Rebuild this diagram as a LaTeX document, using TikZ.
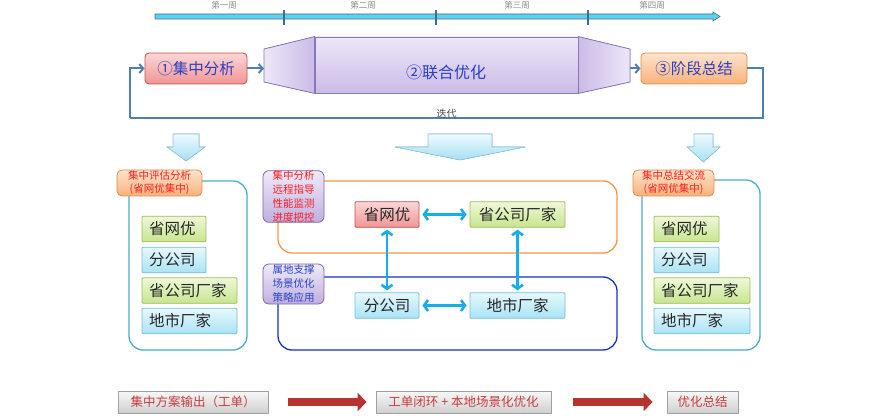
\documentclass[tikz,border=0pt]{standalone}
\usepackage{fontspec}
\setmainfont{Noto Sans CJK SC}
\usepackage{xcolor}
\usetikzlibrary{arrows.meta}

\definecolor{tlFill}{HTML}{5FD0EE}
\definecolor{tlEdge}{HTML}{3C6E99}
\definecolor{weekGray}{HTML}{8A8A8A}
\definecolor{flowBlue}{HTML}{4E7FB0}
\definecolor{stageText}{HTML}{2A3FC4}
\definecolor{redTop}{HTML}{FCD6D6}
\definecolor{redBot}{HTML}{F09595}
\definecolor{redLine}{HTML}{C0504D}
\definecolor{tubeTop}{HTML}{EDE7F8}
\definecolor{tubeBot}{HTML}{CBBBE7}
\definecolor{tubeLine}{HTML}{8878B8}
\definecolor{orTop}{HTML}{FDE3CC}
\definecolor{orBot}{HTML}{F9B27A}
\definecolor{orLine}{HTML}{E08C48}
\definecolor{gnTop}{HTML}{EEF8D8}
\definecolor{gnBot}{HTML}{C8E58F}
\definecolor{gnLine}{HTML}{9BBB59}
\definecolor{blTop}{HTML}{E7F8FD}
\definecolor{blBot}{HTML}{A9E3F5}
\definecolor{blLine}{HTML}{77BCD6}
\definecolor{puTop}{HTML}{F0EAF9}
\definecolor{puBot}{HTML}{BFAEE0}
\definecolor{puLine}{HTML}{8064A2}
\definecolor{tealLine}{HTML}{4BACC6}
\definecolor{frameOrange}{HTML}{F79646}
\definecolor{frameBlue}{HTML}{1233C0}
\definecolor{linkCyan}{HTML}{16AEE8}
\definecolor{tagRed}{HTML}{FF1E1E}
\definecolor{tagBlue}{HTML}{2845C8}
\definecolor{outTop}{HTML}{F8F8F8}
\definecolor{outBot}{HTML}{CFCFCF}
\definecolor{outLine}{HTML}{A0A0A0}
\definecolor{outText}{HTML}{C83C3C}
\definecolor{bigRed}{HTML}{B83230}
\definecolor{dnTop}{HTML}{EEFAFE}
\definecolor{dnBot}{HTML}{A6DFF3}
\definecolor{dnLine}{HTML}{8CC8E0}

\tikzset{
  week/.style={font=\fontsize{8.5}{10}\selectfont, text=weekGray, inner sep=0pt},
  stagebox/.style={draw, rounded corners=4pt, line width=0.8pt, inner sep=0pt,
    text=stageText, font=\fontsize{15.5}{18}\selectfont},
  flow/.style={draw=flowBlue, line width=2pt, -{Straight Barb[length=4pt,width=9pt]}},
  loopline/.style={draw=flowBlue, line width=2pt},
  downarrow/.style={draw=dnLine, line width=0.6pt, top color=dnTop, bottom color=dnBot},
  cell/.style={draw, rounded corners=1pt, line width=0.8pt, inner sep=0pt,
    minimum height=25.5, text=black!85, font=\fontsize{15.5}{18}\selectfont},
  greencell/.style={cell, draw=gnLine, top color=gnTop, bottom color=gnBot},
  bluecell/.style={cell, draw=blLine, top color=blTop, bottom color=blBot},
  redcell/.style={cell, draw=redLine, top color=redTop, bottom color=redBot},
  flushcell/.style={inner xsep=7pt, align=left, text width=#1},
  panel/.style={draw, rounded corners=14pt, line width=1.3pt},
  paneltag/.style={draw=orLine, rounded corners=5pt, line width=0.8pt, inner sep=0pt,
    top color=orTop, bottom color=orBot, text=tagRed, align=center,
    font=\fontsize{10.5}{13}\selectfont},
  roletag/.style={draw=puLine, rounded corners=6pt, line width=0.8pt, inner sep=0pt,
    top color=puTop, bottom color=puBot, align=center,
    font=\fontsize{10.5}{14}\selectfont},
  link/.style={draw=linkCyan, line width=2.6pt,
    {Straight Barb[length=4pt,width=11pt]}-{Straight Barb[length=4pt,width=11pt]}},
  outbox/.style={draw=outLine, line width=0.8pt, inner sep=0pt, minimum height=22,
    top color=outTop, bottom color=outBot, text=outText,
    font=\fontsize{12.5}{15}\selectfont},
  bigarrow/.style={draw=bigRed, line width=8pt, -{Triangle[length=9pt,width=18pt]}}
}

\begin{document}
\begin{tikzpicture}[x=1pt,y=-1pt]
\useasboundingbox (0,0) rectangle (892,417);

% Timeline of the four weeks
\filldraw[fill=tlFill, draw=tlEdge, line width=0.6pt]
  (155,14) -- (713,14) -- (713,12) -- (720,16.5) -- (713,21) -- (713,19) -- (155,19) -- cycle;
\foreach \x in {284,436,588}
  \draw[tlEdge, line width=1.3pt] (\x,10) -- (\x,25);
\node[week] (w1) at (224,5.5) {第一周};
\node[week] (w2) at (363,5.5) {第二周};
\node[week] (w3) at (517,5.5) {第三周};
\node[week] (w4) at (652,5.5) {第四周};

% Three stages
\node[stagebox, draw=redLine, top color=redTop, bottom color=redBot,
  minimum width=102, minimum height=31] (stage1) at (196,68.5) {①集中分析};
\node[draw=tubeLine, line width=0.8pt, top color=tubeTop, bottom color=tubeBot,
  minimum width=263, minimum height=56, inner sep=0pt] (joint) at (446.5,65) {};
\coordinate (jointL) at (264,65.5);
\coordinate (jointR) at (630,65.5);
\filldraw[draw=tubeLine, line width=0.8pt, left color=tubeTop, right color=tubeBot]
  (joint.north west) -- (jointL |- 0,49) -- (jointL |- 0,82) -- (joint.south west) -- cycle;
\filldraw[draw=tubeLine, line width=0.8pt, left color=tubeBot, right color=tubeTop]
  (joint.north east) -- (jointR |- 0,49) -- (jointR |- 0,82) -- (joint.south east) -- cycle;
\node[text=stageText, font=\fontsize{16}{18}\selectfont] (jointlbl) at (446,72) {②联合优化};
\node[stagebox, draw=orLine, top color=orTop, bottom color=orBot,
  minimum width=106, minimum height=31] (stage3) at (694,68.5) {③阶段总结};

% Stage arrows and the iteration loop
\draw[flow] (stage1.east) -- (stage1.east -| jointL);
\draw[flow] (jointR |- stage3.west) -- (stage3.west);
\coordinate (loopR) at (763,118);
\coordinate (loopL) at (130,118);
\draw[loopline] (stage3.east) -| (loopR)
  -- node[above=-2pt, inner sep=1pt, text=black!70, font=\fontsize{10}{12}\selectfont] (iterlbl) {迭代} (loopL);
\draw[flow] (loopL) |- (stage1.west);

% Down arrows
\filldraw[downarrow] (173,134) -- (199,134) -- (199,147) -- (205,147) -- (186,161)
  -- (167,147) -- (173,147) -- cycle;
\filldraw[downarrow] (428,134) -- (492,134) -- (492,147) -- (525,147) -- (460,160)
  -- (395,147) -- (428,147) -- cycle;
\filldraw[downarrow] (694,134) -- (713,134) -- (713,147) -- (720,147) -- (703.5,162)
  -- (687,147) -- (694,147) -- cycle;

% Left panel
\node[panel, draw=tealLine, minimum width=118, minimum height=169] (leftpanel) at (188,265.5) {};
\node[paneltag, minimum width=85, minimum height=26] (lefttag) at (159.5,183)
  {集中评估分析\\(省网优集中)};
\node[greencell, flushcell=50] (l1) at (174,229) {省网优};
\node[bluecell, flushcell=50] (l2) at (174,260) {分公司};
\node[greencell, flushcell=81] (l3) at (189.5,290.5) {省公司厂家};
\node[bluecell, flushcell=81] (l4) at (189.5,321) {地市厂家};

% Middle frames
\node[panel, draw=frameOrange, minimum width=339, minimum height=72] (topframe) at (447.5,217) {};
\node[panel, draw=frameBlue, minimum width=339, minimum height=73] (botframe) at (447.5,313.5) {};
\node[roletag, text=tagRed, minimum width=61, minimum height=51] (roletop) at (293.5,196.5)
  {集中分析\\远程指导\\性能监测\\进度把控};
\node[roletag, text=tagBlue, minimum width=61, minimum height=40] (rolebot) at (293.5,284)
  {属地支撑\\场景优化\\策略应用};
\node[redcell, minimum width=64] (m1) at (387,214.5) {省网优};
\node[greencell, minimum width=95] (m2) at (517.5,214.5) {省公司厂家};
\node[bluecell, minimum width=64] (m3) at (387,305.5) {分公司};
\node[bluecell, minimum width=95] (m4) at (517.5,305.5) {地市厂家};
\draw[link, shorten <=3pt, shorten >=3pt] (m1) -- (m2);
\draw[link, shorten <=3pt, shorten >=3pt] (m3) -- (m4);
\draw[link, shorten <=2pt, shorten >=2pt] (m1) -- (m3);
\draw[link, shorten <=2pt, shorten >=2pt] (m2) -- (m4);

% Right panel
\node[panel, draw=tealLine, minimum width=118, minimum height=170] (rightpanel) at (701,265) {};
\node[paneltag, minimum width=81, minimum height=26] (righttag) at (673.5,183)
  {集中总结交流\\(省网优集中)};
\node[greencell, flushcell=51] (r1) at (686.5,229) {省网优};
\node[bluecell, flushcell=51] (r2) at (686.5,260) {分公司};
\node[greencell, flushcell=82] (r3) at (702,290.5) {省公司厂家};
\node[bluecell, flushcell=82] (r4) at (702,321) {地市厂家};

% Output row
\node[outbox, minimum width=150] (out1) at (193,402) {集中方案输出（工单）};
\node[outbox, minimum width=175] (out2) at (463.5,402) {工单闭环 + 本地场景化优化};
\node[outbox, minimum width=71] (out3) at (702.5,402) {优化总结};
\draw[bigarrow] ([xshift=20pt]out1.east) -- ([xshift=-9pt]out2.west);
\draw[bigarrow] ([xshift=22pt]out2.east) -- ([xshift=-14pt]out3.west);

\end{tikzpicture}
\end{document}
